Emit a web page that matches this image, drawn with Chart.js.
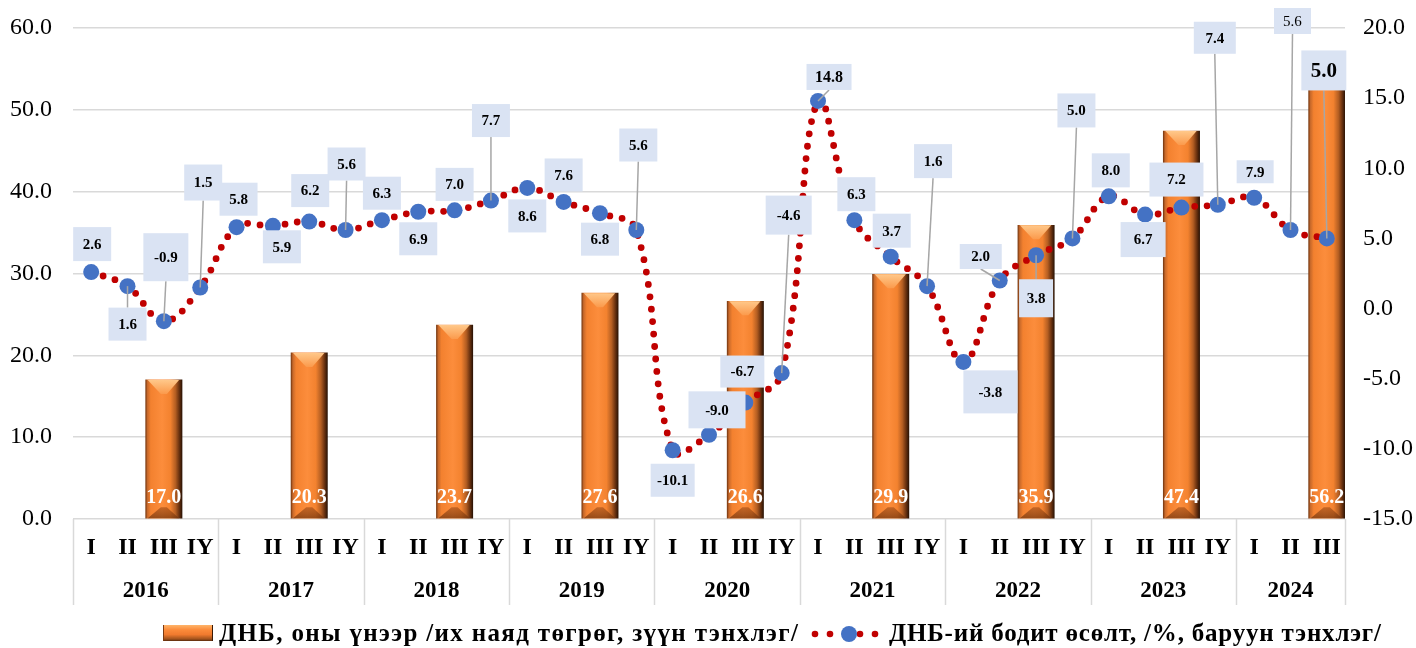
<!DOCTYPE html>
<html>
<head>
<meta charset="utf-8">
<script src="https://cdn.jsdelivr.net/npm/chart.js@4.4.1/dist/chart.umd.min.js"></script>
<style>
html,body{margin:0;padding:0;background:#ffffff;}
#wrap{position:relative;width:1416px;height:648px;overflow:hidden;}
#c{position:absolute;left:0;top:0;}
.lg{position:absolute;top:618px;height:30px;line-height:30px;font-family:'Liberation Serif','Times New Roman',serif;font-weight:bold;font-size:25px;color:#000;white-space:nowrap;}
.sw1{position:absolute;left:163px;top:625px;width:50px;height:16px;
 background:linear-gradient(to bottom,#ffb46a 0%,#fb8b3a 30%,#f07a2e 60%,#a0521c 88%,#5a2a0c 100%);
 box-shadow:inset 1px 0 0 #7a3a12, inset -1px 0 0 #3a1a06;}
#sw2{position:absolute;left:806px;top:624px;}
</style>
</head>
<body>
<div id="wrap">
<canvas id="c" width="1416" height="648"></canvas>
<div class="sw1"></div>
<div class="lg" style="left:219px;letter-spacing:1.35px;">ДНБ, оны үнээр /их наяд төгрөг, зүүн тэнхлэг/</div>
<svg id="sw2" width="80" height="20" viewBox="0 0 80 20">
 <circle cx="9" cy="10" r="3.3" fill="#C00000"/>
 <circle cx="24" cy="10" r="3.3" fill="#C00000"/>
 <circle cx="54" cy="10" r="3.3" fill="#C00000"/>
 <circle cx="69" cy="10" r="3.3" fill="#C00000"/>
 <circle cx="43" cy="10" r="8" fill="#4472C4"/>
</svg>
<div class="lg" style="left:889px;letter-spacing:0.8px;">ДНБ-ий бодит өсөлт, /%, баруун тэнхлэг/</div>
</div>
<script>
// ---------------- DATA ----------------
const years = ['2016','2017','2018','2019','2020','2021','2022','2023','2024'];
const quarterNames = ['I','II','III','IY'];
const quartersPerYear = [4,4,4,4,4,4,4,4,3];
// Nominal GDP (trillion MNT), reported at quarter III of each year
const gdpNominal = [17.0, 20.3, 23.7, 27.6, 26.6, 29.9, 35.9, 47.4, 56.2];
// Real GDP growth, %
const gdpGrowth = [
  2.6, 1.6, -0.9, 1.5,
  5.8, 5.9, 6.2, 5.6,
  6.3, 6.9, 7.0, 7.7,
  8.6, 7.6, 6.8, 5.6,
  -10.1, -9.0, -6.7, -4.6,
  14.8, 6.3, 3.7, 1.6,
  -3.8, 2.0, 3.8, 5.0,
  8.0, 6.7, 7.2, 7.4,
  7.9, 5.6, 5.0
];
const leftTicks = [0, 10, 20, 30, 40, 50, 60];
const rightTicks = [-15, -10, -5, 0, 5, 10, 15, 20];

// ---------------- BUILD ----------------
const labels = [];
const barData = [];
const yearStart = [];
years.forEach((y, yi) => {
  yearStart.push(labels.length);
  for (let q = 0; q < quartersPerYear[yi]; q++) {
    labels.push(quarterNames[q]);
    barData.push(q === 2 ? gdpNominal[yi] : null);
  }
});

// label box layout (style only): [dx, dy, w, h, leader, fontSize, bold]
const labelLayout = [
  [1,-28,38,34,0,15,1],[0,38,38,33,1,15,1],[2,-64,45,48,1,15,1],[3,-105,38,36,1,15,1],
  [2,-28,38,33,0,15,1],[9,21,38,33,0,15,1],[1,-31,38,33,0,15,1],[1,-66,38,33,1,15,1],
  [0,-27,38,33,0,15,1],[0,27,38,33,0,15,1],[0,-26,38,33,0,15,1],[0,-80,38,33,1,15,1],
  [0,28,38,33,0,15,1],[0,-27,38,33,0,15,1],[0,26,38,33,0,15,1],[2,-85,38,33,1,15,1],
  [0,30,44,33,0,15,1],[8,-25,57,37,0,15,1],[-3,-31,44,32,0,15,1],[7,-158,46,39,1,15,1],
  [11,-24,45,26,1,16,1],[2,-26,38,34,0,15,1],[1,-26,38,34,0,15,1],[6,-125,38,34,1,15,1],
  [27,30,54,43,0,15,1],[-19,-24,42,25,1,15,1],[0,43,34,38,1,15,1],[4,-128,38,34,1,15,1],
  [2,-26,38,34,0,15,1],[-2,25,45,35,0,15,1],[-5,-28,54,34,0,15,1],[-3,-167,42,32,1,15,1],
  [1,-26,37,23,0,15,1],[2,-209,37,26,1,15,0],[-3,-168,45,40,1,21,1]
];

const FONT = "'Liberation Serif','Times New Roman',serif";

function barFill(c) {
  const chart = c.chart;
  const xs = chart.scales && chart.scales.x;
  if (!xs || !chart.chartArea) return '#F98A35';
  const cx = xs.getPixelForValue(c.dataIndex);
  const w = xs.width / labels.length;
  const g = chart.ctx.createLinearGradient(cx - w / 2, 0, cx + w / 2, 0);
  g.addColorStop(0, '#7a3a12');
  g.addColorStop(0.05, '#c8692a');
  g.addColorStop(0.14, '#f3812f');
  g.addColorStop(0.45, '#fc8d3c');
  g.addColorStop(0.68, '#f3822f');
  g.addColorStop(0.82, '#b45e22');
  g.addColorStop(0.92, '#6a3210');
  g.addColorStop(1, '#2c1405');
  return g;
}

function noOverflow(s) { s.paddingTop = 0; s.paddingBottom = 0; s.paddingLeft = 0; s.paddingRight = 0; }

const decorPlugin = {
  id: 'decor',
  afterDatasetDraw(chart, args) {
    if (args.meta.type !== 'bar') return;
    const ctx = chart.ctx;
    args.meta.data.forEach((el, i) => {
      if (barData[i] == null) return;
      const p = el.getProps(['x', 'y', 'base', 'width'], true);
      const l = p.x - p.width / 2, r = p.x + p.width / 2, t = p.y, b = p.base;
      const bv = 14;
      ctx.save();
      // top bevel
      let g = ctx.createLinearGradient(0, t, 0, t + bv);
      g.addColorStop(0, '#ffc88a');
      g.addColorStop(1, '#fb9a4c');
      ctx.fillStyle = g;
      ctx.beginPath();
      ctx.moveTo(l + 2, t); ctx.lineTo(r - 3, t);
      ctx.lineTo(p.x + 3, t + bv); ctx.lineTo(p.x - 3, t + bv);
      ctx.closePath(); ctx.fill();
      // bottom bevel
      const bb = 11;
      g = ctx.createLinearGradient(0, b - bb, 0, b);
      g.addColorStop(0, 'rgba(150,70,20,0.55)');
      g.addColorStop(1, 'rgba(110,50,12,0.7)');
      ctx.fillStyle = g;
      ctx.beginPath();
      ctx.moveTo(l + 2, b); ctx.lineTo(r - 3, b);
      ctx.lineTo(p.x + 3, b - bb); ctx.lineTo(p.x - 3, b - bb);
      ctx.closePath(); ctx.fill();
      ctx.restore();
    });
  },
  afterDatasetsDraw(chart) {
    const ctx = chart.ctx;
    const xs = chart.scales.x;
    const ca = chart.chartArea;
    const half = xs.width / labels.length / 2;
    ctx.save();
    // year separators and year labels
    ctx.strokeStyle = '#d9d9d9';
    ctx.lineWidth = 1.5;
    const bounds = yearStart.concat([labels.length]);
    bounds.forEach(i => {
      const x = i < labels.length ? xs.getPixelForValue(i) - half : xs.getPixelForValue(labels.length - 1) + half;
      ctx.beginPath(); ctx.moveTo(Math.round(x) + 0.5, ca.bottom); ctx.lineTo(Math.round(x) + 0.5, ca.bottom + 86); ctx.stroke();
    });
    ctx.fillStyle = '#000';
    ctx.font = 'bold 23px ' + FONT;
    ctx.textAlign = 'center';
    ctx.textBaseline = 'middle';
    years.forEach((y, yi) => {
      const a = xs.getPixelForValue(yearStart[yi]);
      const z = xs.getPixelForValue(yearStart[yi] + quartersPerYear[yi] - 1);
      ctx.fillText(y, (a + z) / 2, ca.bottom + 72);
    });
    // bar value labels
    const barMeta = chart.getDatasetMeta(1);
    ctx.fillStyle = '#ffffff';
    ctx.font = 'bold 20px ' + FONT;
    barMeta.data.forEach((el, i) => {
      if (barData[i] == null) return;
      ctx.fillText(barData[i].toFixed(1), el.x, ca.bottom - 21);
    });
    // line labels
    const lineMeta = chart.getDatasetMeta(0);
    lineMeta.data.forEach((el, i) => {
      const L = labelLayout[i];
      const cx = el.x + L[0], cy = el.y + L[1], w = L[2], h = L[3];
      if (L[4]) {
        const ay = el.y > cy ? cy + h / 2 : cy - h / 2;
        ctx.strokeStyle = '#a6a6a6';
        ctx.lineWidth = 1.5;
        ctx.beginPath(); ctx.moveTo(cx, ay); ctx.lineTo(el.x, el.y); ctx.stroke();
      }
      ctx.fillStyle = '#dae3f3';
      ctx.fillRect(cx - w / 2, cy - h / 2, w, h);
      ctx.fillStyle = '#000';
      ctx.font = (L[6] ? 'bold ' : '') + L[5] + 'px ' + FONT;
      ctx.fillText(gdpGrowth[i].toFixed(1), cx, cy + 1);
    });
    ctx.restore();
  }
};

new Chart(document.getElementById('c'), {
  data: {
    labels: labels,
    datasets: [
      {
        type: 'line',
        label: 'ДНБ-ий бодит өсөлт, /%, баруун тэнхлэг/',
        data: gdpGrowth,
        yAxisID: 'y1',
        order: 0,
        borderColor: '#C00000',
        borderWidth: 6.8,
        borderDash: [0, 12.5],
        borderCapStyle: 'round',
        tension: 0.4,
        fill: false,
        pointRadius: 8,
        pointBackgroundColor: '#4472C4',
        pointBorderColor: '#4472C4',
        pointBorderWidth: 0,
        clip: false
      },
      {
        type: 'bar',
        label: 'ДНБ, оны үнээр /их наяд төгрөг, зүүн тэнхлэг/',
        data: barData,
        yAxisID: 'y',
        order: 1,
        backgroundColor: barFill,
        borderWidth: 0,
        barPercentage: 1.0,
        categoryPercentage: 1.0
      }
    ]
  },
  options: {
    responsive: false,
    animation: false,
    devicePixelRatio: 1,
    layout: { padding: { left: 0, right: 0, top: 28, bottom: 29 } },
    plugins: { legend: { display: false }, tooltip: { enabled: false } },
    scales: {
      x: {
        grid: { display: false, drawTicks: false },
        border: { display: false },
        ticks: { color: '#000', font: { family: FONT, size: 24, weight: 'bold' }, padding: 14, maxRotation: 0, autoSkip: false },
        afterFit(s) { s.height = 100; noOverflow(s); }
      },
      y: {
        position: 'left',
        min: 0, max: 60,
        afterBuildTicks(s) { s.ticks = leftTicks.map(v => ({ value: v })); },
        ticks: { color: '#000', font: { family: FONT, size: 24 }, padding: 21, callback: v => Number(v).toFixed(1) },
        grid: { color: '#d9d9d9', lineWidth: 1.5, drawTicks: false },
        border: { display: false },
        afterFit(s) { s.width = 73; noOverflow(s); }
      },
      y1: {
        position: 'right',
        min: -15, max: 20,
        afterBuildTicks(s) { s.ticks = rightTicks.map(v => ({ value: v })); },
        ticks: { color: '#000', font: { family: FONT, size: 24 }, padding: 18, callback: v => Number(v).toFixed(1) },
        grid: { display: false, drawTicks: false },
        border: { display: false },
        afterFit(s) { s.width = 71; noOverflow(s); }
      }
    }
  },
  plugins: [decorPlugin]
});
</script>
</body>
</html>
